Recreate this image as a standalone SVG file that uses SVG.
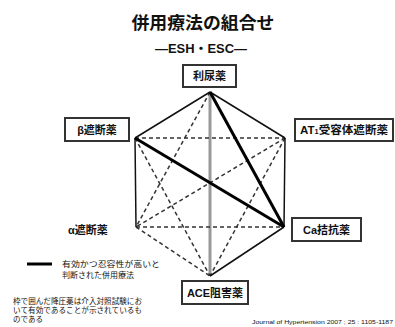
<svg xmlns="http://www.w3.org/2000/svg" width="395" height="327" viewBox="0 0 395 327">
<style>
.jp{font-family:"Liberation Sans","Noto Sans CJK JP",sans-serif;fill:#111}
.b{font-weight:bold}
.box{fill:#fff;stroke:#333;stroke-width:2}
.lbl{font-family:"Liberation Sans","Noto Sans CJK JP",sans-serif;font-weight:bold;font-size:11px;fill:#111;text-anchor:middle}
.solid{stroke:#111;stroke-width:1.5;fill:none}
.thick{stroke:#000;stroke-width:3;fill:none}
.gray{stroke:#999;stroke-width:3;fill:none}
.dash{stroke:#333;stroke-width:1.5;stroke-dasharray:4 3;fill:none}
.small{font-size:8px}
</style>
<rect width="395" height="327" fill="#fff"/>
<text class="jp b" x="203" y="29" font-size="17" text-anchor="middle" textLength="143" lengthAdjust="spacingAndGlyphs">併用療法の組合せ</text>
<text class="jp b" x="201" y="53" font-size="13" text-anchor="middle" textLength="92" lengthAdjust="spacingAndGlyphs">—ESH・ESC—</text>
<g id="connectors">
<line class="gray" x1="210" y1="92" x2="210" y2="276"/>
<line class="dash" x1="135" y1="138" x2="285" y2="138"/>
<line class="dash" x1="136" y1="227" x2="284" y2="227"/>
<line class="dash" x1="210" y1="92" x2="136" y2="227"/>
<line class="dash" x1="135" y1="138" x2="210" y2="276"/>
<line class="dash" x1="285" y1="138" x2="136" y2="227"/>
<line class="dash" x1="285" y1="138" x2="210" y2="276"/>
<line class="dash" x1="136" y1="227" x2="210" y2="276"/>
<line class="solid" x1="210" y1="92" x2="135" y2="138"/>
<line class="solid" x1="210" y1="92" x2="285" y2="138"/>
<line class="solid" x1="285" y1="138" x2="284" y2="227"/>
<line class="solid" x1="284" y1="227" x2="210" y2="276"/>
<line class="solid" x1="135" y1="138" x2="136" y2="227"/>
<line class="thick" x1="210" y1="92" x2="284" y2="227"/>
<line class="thick" x1="135" y1="138" x2="284" y2="227"/>
</g>
<g id="diuretic"><rect class="box" x="183" y="65" width="53" height="22"/><text class="lbl" x="209.5" y="80">利尿薬</text></g>
<g id="beta"><rect class="box" x="65" y="118" width="64" height="23"/><text class="lbl" x="97" y="134">β遮断薬</text></g>
<g id="at1"><rect class="box" x="295" y="119" width="98" height="22"/><text class="lbl" x="344" y="134" textLength="88" lengthAdjust="spacingAndGlyphs">AT<tspan font-size="7">1</tspan>受容体遮断薬</text></g>
<g id="ca"><rect class="box" x="292" y="218" width="69" height="23"/><text class="lbl" x="326.5" y="234">Ca拮抗薬</text></g>
<g id="ace"><rect class="box" x="182" y="281" width="66" height="23"/><text class="lbl" x="215" y="297">ACE阻害薬</text></g>
<g id="alpha"><text class="lbl" x="88" y="234">α遮断薬</text></g>
<g id="legend">
<line x1="27" y1="264" x2="52" y2="264" stroke="#000" stroke-width="3"/>
<text class="jp small" x="62" y="267" textLength="98" lengthAdjust="spacingAndGlyphs">有効かつ忍容性が高いと</text>
<text class="jp small" x="62" y="278">判断された併用療法</text>
</g>
<g id="note">
<text class="jp" font-size="7.5" x="13" y="304" textLength="129" lengthAdjust="spacingAndGlyphs">枠で囲んだ降圧薬は介入対照試験にお</text>
<text class="jp" font-size="7.5" x="13" y="313" textLength="129" lengthAdjust="spacingAndGlyphs">いて有効であることが示されているも</text>
<text class="jp" font-size="7.5" x="13" y="322">のである</text>
</g>
<text class="jp" font-size="5.5" x="252" y="324" textLength="141" lengthAdjust="spacingAndGlyphs">Journal of Hypertension 2007 ; 25 : 1105-1187</text>
</svg>
